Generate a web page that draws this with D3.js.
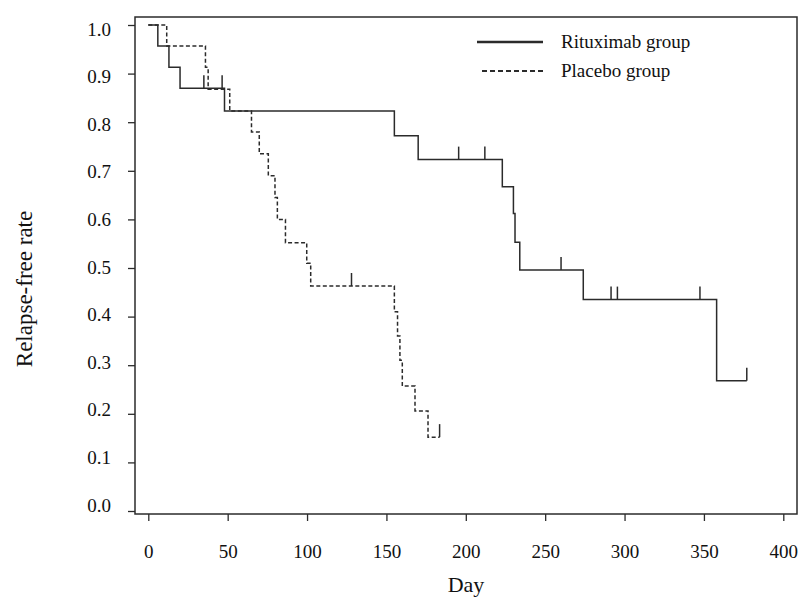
<!DOCTYPE html>
<html>
<head>
<meta charset="utf-8">
<script src="https://cdn.jsdelivr.net/npm/d3@7"></script>
<style>
  html, body { margin: 0; padding: 0; background: #fff; }
  svg { display: block; }
  text { font-family: "Liberation Serif", "Times New Roman", serif; fill: #111; }
</style>
</head>
<body>
<svg id="chart" width="802" height="598"></svg>
<script>
// ---- data ----
const xTicks = [0, 50, 100, 150, 200, 250, 300, 350, 400];
const yTicks = [0.0, 0.1, 0.2, 0.3, 0.4, 0.5, 0.6, 0.7, 0.8, 0.9, 1.0];

const seriesNames = ["Rituximab group", "Placebo group"];

const ritTimes = [0, 6, 13, 20, 48, 155, 170, 223, 230, 231, 234, 274, 358, 377];
const ritSurv  = [1.0, 0.957, 0.913, 0.870, 0.823, 0.772, 0.723, 0.667, 0.612, 0.553, 0.496, 0.435, 0.268, 0.268];
const ritCensor = [35, 46.5, 195.5, 212, 260, 291.5, 295.5, 347.5, 377];

const plaTimes = [0, 11.6, 36, 37.7, 51.3, 65, 69.9, 75.6, 79.8, 81.3, 86.4, 99.8, 102.3, 155, 157, 158.5, 160, 168, 176.2, 183.5];
const plaSurv  = [1.0, 0.957, 0.913, 0.868, 0.823, 0.780, 0.735, 0.690, 0.645, 0.600, 0.552, 0.510, 0.463, 0.410, 0.360, 0.310, 0.257, 0.206, 0.152, 0.152];
const plaCensor = [128, 183.5];

// ---- layout ----
const svg = d3.select("#chart");
const box = {left: 135, top: 17, right: 797, bottom: 514};
const x = d3.scaleLinear().domain([0, 400]).range([148.3, 783.3]);
const y = d3.scaleLinear().domain([0, 1]).range([511, 25]);
// tick labels in the original sit on a slightly tighter spacing than the ticks
const yLab = d3.scaleLinear().domain([0, 1]).range([505, 29]);
const ink = "#2b2b2b";

// frame
svg.append("rect")
  .attr("x", box.left).attr("y", box.top)
  .attr("width", box.right - box.left).attr("height", box.bottom - box.top)
  .attr("fill", "none").attr("stroke", ink).attr("stroke-width", 1.5);

// x axis
const xAxis = d3.axisBottom(x).tickValues(xTicks).tickSize(7).tickPadding(37)
  .tickFormat(d3.format("d"));
const gx = svg.append("g").attr("transform", `translate(0,${box.bottom})`).call(xAxis);
gx.select(".domain").remove();
gx.selectAll(".tick line").attr("stroke", ink).attr("stroke-width", 1.3);
gx.selectAll(".tick text").attr("font-family", "Liberation Serif").attr("font-size", 19)
  .attr("fill", "#111").attr("dy", "0");

// y axis
const yAxis = d3.axisLeft(y).tickValues(yTicks).tickSize(7).tickPadding(17)
  .tickFormat(d3.format(".1f"));
const gy = svg.append("g").attr("transform", `translate(${box.left},0)`).call(yAxis);
gy.select(".domain").remove();
gy.selectAll(".tick line").attr("stroke", ink).attr("stroke-width", 1.3);
gy.selectAll(".tick text").attr("font-family", "Liberation Serif").attr("font-size", 19)
  .attr("fill", "#111")
  .attr("y", d => yLab(d) - y(d));

// axis titles
svg.append("text").attr("x", 466).attr("y", 592).attr("text-anchor", "middle")
  .attr("font-size", 22).text("Day");
svg.append("text").attr("transform", "translate(32,289) rotate(-90)")
  .attr("text-anchor", "middle").attr("font-size", 23).text("Relapse-free rate");

// curves
const line = d3.line().x(d => x(d[0])).y(d => y(d[1])).curve(d3.curveStepAfter);

function survAt(times, surv, t) {
  const i = d3.bisectRight(times, t) - 1;
  return surv[Math.max(0, i)];
}

function drawCurve(times, surv, censor, dash) {
  const pts = times.map((t, i) => [t, surv[i]]);
  svg.append("path").datum(pts).attr("d", line)
    .attr("fill", "none").attr("stroke", ink).attr("stroke-width", 1.5)
    .attr("stroke-dasharray", dash);
  svg.append("g").selectAll("line").data(censor).join("line")
    .attr("x1", d => x(d)).attr("x2", d => x(d))
    .attr("y1", d => y(survAt(times, surv, d)))
    .attr("y2", d => y(survAt(times, surv, d)) - 13)
    .attr("stroke", ink).attr("stroke-width", 1.5);
}

drawCurve(ritTimes, ritSurv, ritCensor, null);
drawCurve(plaTimes, plaSurv, plaCensor, "4,2.5");

// legend
const legend = [
  {name: seriesNames[0], y: 42, dash: null, x1: 477, x2: 543, w: 2.5},
  {name: seriesNames[1], y: 71, dash: "5,3", x1: 482, x2: 545, w: 2}
];
legend.forEach(l => {
  svg.append("line").attr("x1", l.x1).attr("x2", l.x2).attr("y1", l.y).attr("y2", l.y)
    .attr("stroke", ink).attr("stroke-width", l.w).attr("stroke-dasharray", l.dash);
  svg.append("text").attr("x", 561).attr("y", l.y + 6).attr("font-size", 19).text(l.name);
});
</script>
</body>
</html>
